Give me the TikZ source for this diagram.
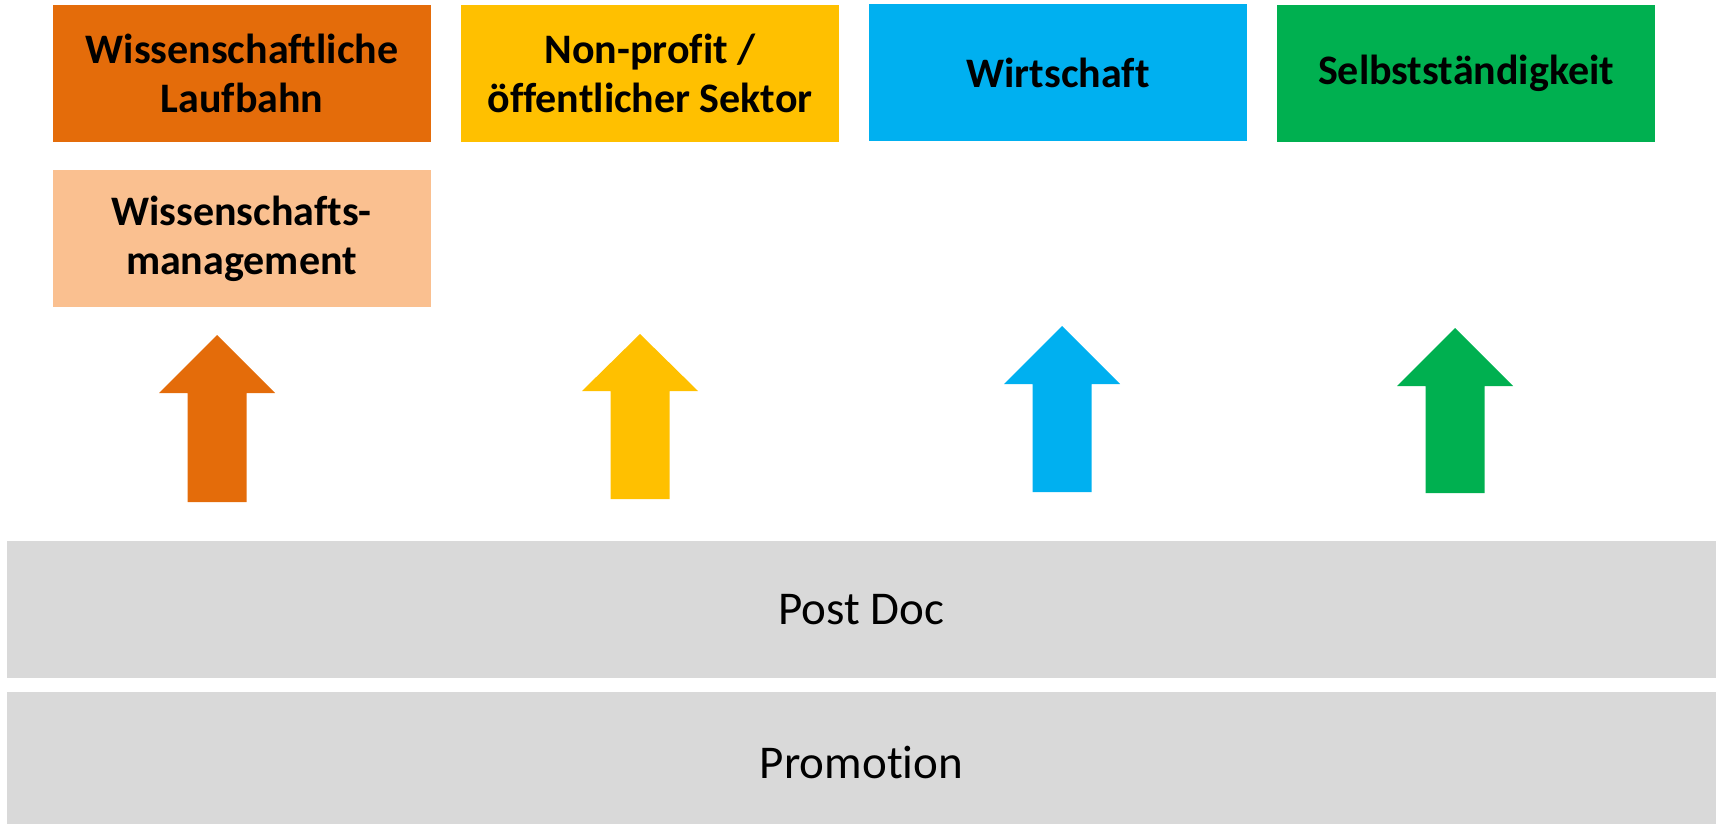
\documentclass[tikz,border=0pt]{standalone}
\usepackage{fontspec}
\setmainfont[Ligatures=NoCommon]{Carlito}
\definecolor{corange}{RGB}{228,108,10}
\definecolor{clorange}{RGB}{250,192,144}
\definecolor{cyellow}{RGB}{255,192,0}
\definecolor{cblue}{RGB}{0,176,240}
\definecolor{cgreen}{RGB}{0,176,80}
\definecolor{cgray}{RGB}{217,217,217}
\begin{document}
\begin{tikzpicture}[x=1pt,y=-1pt,
  topbox/.style={rectangle,inner sep=0pt,minimum width=378pt,minimum height=137pt,
    align=center,font=\fontsize{42}{49}\selectfont\bfseries,text=black},
  bar/.style={rectangle,inner sep=0pt,fill=cgray,minimum width=1709pt,minimum height=137pt,
    font=\fontsize{47}{55}\selectfont,text=black},
  uparrow/.style={draw=none}]
\useasboundingbox (0,0) rectangle (1717,824);
\node[topbox,fill=corange] (wl) at (242,73.5) {Wissenschaftliche\\Laufbahn};
\node[topbox,fill=clorange] (wm) at (241.5,238.5) {Wissenschafts-\\management};
\node[topbox,fill=cyellow] (np) at (650,73.5) {Non-profit /\\öffentlicher Sektor};
\node[topbox,fill=cblue] (wi) at (1058,72.5) {Wirtschaft};
\node[topbox,fill=cgreen] (se) at (1466,73.5) {Selbstständigkeit};
\node[bar] (pd) at (861.5,609.5) {Post Doc};
\node[bar,minimum height=140pt] (pr) at (861.5,762) {Promotion};
% arrows: centre x, tip y, head base y, bottom y
\foreach \cx/\ty/\hy/\by/\col in {217/335/393/502/corange, 640/334/391/499/cyellow, 1062/326/384/492/cblue, 1455/328/386/493/cgreen}{
  \fill[uparrow,\col] (\cx,\ty) -- (\cx+58,\hy) -- (\cx+29.5,\hy) -- (\cx+29.5,\by)
    -- (\cx-29.5,\by) -- (\cx-29.5,\hy) -- (\cx-58,\hy) -- cycle;
}
\end{tikzpicture}
\end{document}
